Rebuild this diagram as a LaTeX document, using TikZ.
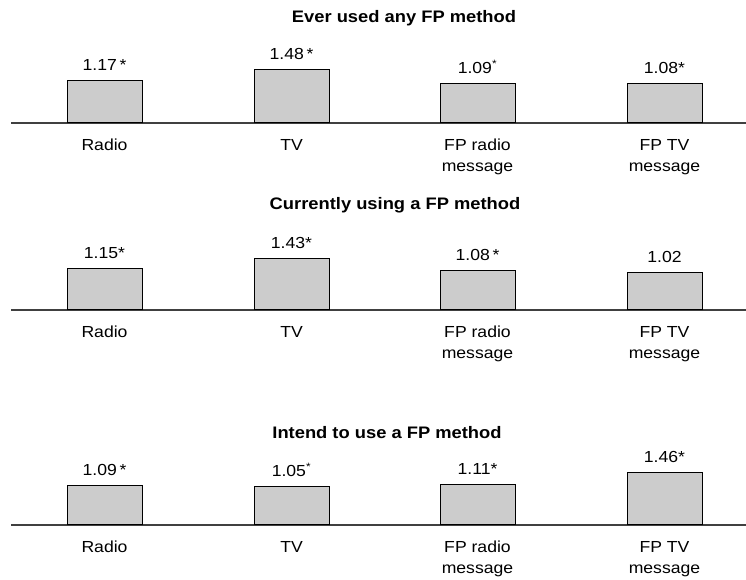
\documentclass[tikz,border=0pt]{standalone}
\usepackage{fontspec}
\setmainfont{Liberation Sans}[FakeStretch=1.1]
\usetikzlibrary{positioning}
\tikzset{
    %Define style for bars, height from the value
    bar/.style={
           rectangle,
           draw=black,
           fill=black!20,
           line width=0.6pt,
           minimum width=56.25pt,
           minimum height=#1*27pt,
           anchor=south,
           inner sep=0pt},
    %Define style for values on top of bars
    val/.style={
           font=\fontsize{12}{14}\selectfont,
           text height=8.6pt,
           text depth=0pt,
           inner sep=1pt},
    %Define style for category labels
    cat/.style={
           font=\fontsize{12}{15.75}\selectfont,
           align=center,
           inner sep=1pt},
    %Define style for panel headings
    head/.style={
           font=\bfseries\fontsize{12.5}{14}\selectfont},
    % Define axis style
    axis/.style={
           draw=black!75,
           line width=1.5pt}
}

\begin{document}
\begin{tikzpicture}[x=0.75pt, y=-0.75pt]
  \useasboundingbox (0,0) rectangle (746,580);
  % panel 1
  \node[head] (ever) at (404,18) {Ever used any FP method};
  \coordinate (ever-l) at (11,123);
  \coordinate (ever-r) at (746,123);
  \draw[axis] (ever-l) -- (ever-r);
  \node[bar=1.17] (ever-radio) at (104.5,123) {};
  \node[bar=1.48] (ever-tv) at (291.5,123) {};
  \node[bar=1.09] (ever-fpradio) at (477.5,123) {};
  \node[bar=1.08] (ever-fptv) at (664.5,123) {};
  \node[val,above=6pt of ever-radio] {1.17\,*};
  \node[val,above=6pt of ever-tv] {1.48\,*};
  \node[val,above=6pt of ever-fpradio] {1.09\textsuperscript{*}};
  \node[val,above=6pt of ever-fptv] {1.08*};
  \node[cat,below=11pt of ever-radio.south] {Radio};
  \node[cat,below=11pt of ever-tv.south] {TV};
  \node[cat,below=11pt of ever-fpradio.south] {FP radio\\message};
  \node[cat,below=11pt of ever-fptv.south] {FP TV\\message};
  % panel 2
  \node[head] (curr) at (395,205) {Currently using a FP method};
  \coordinate (curr-l) at (11,310);
  \coordinate (curr-r) at (746,310);
  \draw[axis] (curr-l) -- (curr-r);
  \node[bar=1.15] (curr-radio) at (104.5,310) {};
  \node[bar=1.43] (curr-tv) at (291.5,310) {};
  \node[bar=1.08] (curr-fpradio) at (477.5,310) {};
  \node[bar=1.02] (curr-fptv) at (664.5,310) {};
  \node[val,above=6pt of curr-radio] {1.15*};
  \node[val,above=6pt of curr-tv] {1.43*};
  \node[val,above=6pt of curr-fpradio] {1.08\,*};
  \node[val,above=6pt of curr-fptv] {1.02};
  \node[cat,below=11pt of curr-radio.south] {Radio};
  \node[cat,below=11pt of curr-tv.south] {TV};
  \node[cat,below=11pt of curr-fpradio.south] {FP radio\\message};
  \node[cat,below=11pt of curr-fptv.south] {FP TV\\message};
  % panel 3
  \node[head] (intd) at (387,433) {Intend to use a FP method};
  \coordinate (intd-l) at (11,525);
  \coordinate (intd-r) at (746,525);
  \draw[axis] (intd-l) -- (intd-r);
  \node[bar=1.09] (intd-radio) at (104.5,525) {};
  \node[bar=1.05] (intd-tv) at (291.5,525) {};
  \node[bar=1.11] (intd-fpradio) at (477.5,525) {};
  \node[bar=1.46] (intd-fptv) at (664.5,525) {};
  \node[val,above=6pt of intd-radio] {1.09\,*};
  \node[val,above=6pt of intd-tv] {1.05\textsuperscript{*}};
  \node[val,above=6pt of intd-fpradio] {1.11*};
  \node[val,above=6pt of intd-fptv] {1.46*};
  \node[cat,below=11pt of intd-radio.south] {Radio};
  \node[cat,below=11pt of intd-tv.south] {TV};
  \node[cat,below=11pt of intd-fpradio.south] {FP radio\\message};
  \node[cat,below=11pt of intd-fptv.south] {FP TV\\message};
\end{tikzpicture}
\end{document}
